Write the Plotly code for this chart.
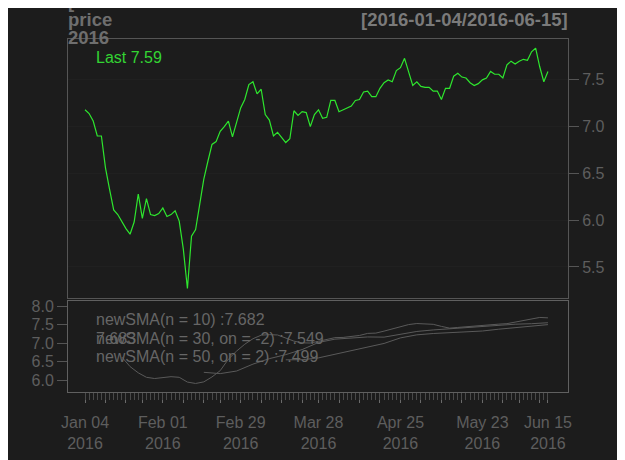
import pandas as pd
import plotly.graph_objects as go

# ---------------- data ----------------
holidays = ["2016-01-18", "2016-02-15", "2016-03-25", "2016-05-30"]
dates = [d.strftime("%Y-%m-%d") for d in pd.bdate_range("2016-01-04", "2016-06-15")
         if d.strftime("%Y-%m-%d") not in holidays]

price = [7.18, 7.14, 7.06, 6.90, 6.90, 6.56, 6.33, 6.11, 6.06, 5.98,
         5.91, 5.85, 5.98, 6.28, 6.02, 6.23, 6.06, 6.05, 6.07, 6.13,
         6.04, 6.06, 6.10, 5.99, 5.69, 5.27, 5.83, 5.90, 6.19, 6.44,
         6.63, 6.81, 6.84, 6.95, 7.00, 7.06, 6.89, 7.04, 7.20, 7.29,
         7.45, 7.48, 7.35, 7.40, 7.13, 7.07, 6.90, 6.94, 6.89, 6.83,
         6.87, 7.17, 7.12, 7.16, 7.15, 7.00, 7.13, 7.18, 7.09, 7.10,
         7.28, 7.28, 7.16, 7.18, 7.20, 7.22, 7.28, 7.29, 7.37, 7.38,
         7.32, 7.32, 7.41, 7.47, 7.50, 7.48, 7.60, 7.63, 7.73, 7.57,
         7.44, 7.48, 7.43, 7.42, 7.42, 7.38, 7.38, 7.29, 7.41, 7.41,
         7.54, 7.57, 7.53, 7.52, 7.47, 7.44, 7.46, 7.50, 7.52, 7.59,
         7.56, 7.56, 7.52, 7.66, 7.70, 7.67, 7.70, 7.72, 7.71, 7.80,
         7.84, 7.64, 7.48, 7.59]

# SMA lines of the lower panel, read at every 2nd / 4th session
sma10_dates = dates[9::2]
sma10 = [6.622, 6.366, 6.196, 6.075, 6.042, 6.058, 6.092, 6.075, 5.946, 5.908,
         5.951, 6.085, 6.255, 6.565, 6.785, 6.971, 7.120, 7.216, 7.230, 7.221,
         7.144, 7.055, 7.008, 7.003, 7.050, 7.097, 7.149, 7.155, 7.182, 7.208,
         7.264, 7.272, 7.326, 7.382, 7.448, 7.503, 7.531, 7.528, 7.510, 7.454,
         7.406, 7.425, 7.445, 7.456, 7.485, 7.514, 7.515, 7.528, 7.574, 7.620,
         7.660, 7.696, 7.685]
sma30_dates = dates[29::4]
sma30 = [6.210, 6.175, 6.245, 6.432, 6.580, 6.689, 6.826, 7.019, 7.108, 7.138,
         7.168, 7.163, 7.235, 7.317, 7.358, 7.391, 7.433, 7.462, 7.490, 7.513,
         7.527, 7.553]
sma50_dates = dates[49::4]
sma50 = [6.549, 6.550, 6.601, 6.700, 6.785, 6.885, 6.992, 7.142, 7.225, 7.261,
         7.283, 7.292, 7.329, 7.378, 7.421, 7.469, 7.502]

label_dates = ["2016-01-04", "2016-02-01", "2016-02-29", "2016-03-28",
               "2016-04-25", "2016-05-23", "2016-06-15"]
label_text = ["Jan 04<br>2016", "Feb 01<br>2016", "Feb 29<br>2016", "Mar 28<br>2016",
              "Apr 25<br>2016", "May 23<br>2016", "Jun 15<br>2016"]

main_ticks = [5.5, 6.0, 6.5, 7.0, 7.5]
sub_ticks = [6.0, 6.5, 7.0, 7.5, 8.0]

legend_lines = ["newSMA(n = 10) :7.682",
                "newSMA(n = 30, on = -2) :7.549",
                "newSMA(n = 50, on = 2) :7.499"]
title_lines = ["[", "price", "2016"]
range_text = "[2016-01-04/2016-06-15]"
last_text = "Last 7.59"

# weekly ticks: first session of each week plus last session
dts = pd.to_datetime(dates)
week_ticks = [dates[0]]
for i in range(1, len(dates)):
    if dts[i].weekday() < dts[i - 1].weekday():
        week_ticks.append(dates[i])
if dates[-1] not in week_ticks:
    week_ticks.append(dates[-1])
week_text = [label_text[label_dates.index(d)] if d in label_dates else "" for d in week_ticks]

# ---------------- style ----------------
BG = "#1c1c1c"
FRAME = "#555555"
TXT = "#5e5e5e"
FONT = "Liberation Sans, Arial, sans-serif"
GREEN = "#2ee62e"
SMA_COL = "#5a5a5a"
XR = [-4.15, 117.9]

fig = go.Figure()
fig.add_trace(go.Scatter(x=dates, y=price, mode="lines",
                         line=dict(color=GREEN, width=1.2),
                         xaxis="x", yaxis="y", showlegend=False))
for xs, ys in [(sma10_dates, sma10), (sma30_dates, sma30), (sma50_dates, sma50)]:
    fig.add_trace(go.Scatter(x=xs, y=ys, mode="lines",
                             line=dict(color=SMA_COL, width=1),
                             xaxis="x2", yaxis="y2", showlegend=False))
# invisible trace to register categories on the minor-tick axis
fig.add_trace(go.Scatter(x=dates, y=price, mode="lines", opacity=0,
                         line=dict(width=0), hoverinfo="skip",
                         xaxis="x3", yaxis="y2", showlegend=False))

cat = dict(type="category", categoryorder="array", categoryarray=dates, range=XR,
           automargin=False)

fig.update_layout(
    width=625, height=460,
    margin=dict(l=60, r=65, t=31, b=76),
    paper_bgcolor=BG, plot_bgcolor=BG,
    font=dict(family=FONT, color=TXT, size=16),
    xaxis=dict(domain=[0, 1], anchor="y", **cat,
               showticklabels=False, ticks="", showgrid=False, zeroline=False,
               showline=True, mirror=True, linecolor=FRAME, linewidth=1),
    yaxis=dict(domain=[0.266, 1], anchor="x", side="right", range=[5.167, 7.937],
               automargin=False,
               tickvals=main_ticks, ticktext=[f"{v:.1f}" for v in main_ticks],
               ticks="outside", ticklen=10, tickcolor=FRAME,
               tickfont=dict(size=16, color=TXT),
               showgrid=True, gridcolor="#202020", zeroline=False,
               showline=True, mirror=True, linecolor=FRAME, linewidth=1),
    xaxis2=dict(domain=[0, 1], anchor="y2", **cat,
                tickvals=week_ticks, ticktext=week_text,
                ticks="outside", ticklen=10, tickcolor="#6a6a6a", tickangle=0,
                tickfont=dict(size=16, color=TXT), ticklabelstandoff=6,
                showgrid=False, zeroline=False,
                showline=True, mirror=True, linecolor="#606060", linewidth=1),
    xaxis3=dict(overlaying="x2", anchor="y2", side="bottom", **cat,
                tickvals=dates, showticklabels=False,
                ticks="outside", ticklen=7, tickcolor="#4a4a4a",
                showgrid=False, zeroline=False, showline=False),
    yaxis2=dict(domain=[0, 0.259], anchor="x2", side="left", range=[5.677, 8.153],
                automargin=False,
                tickvals=sub_ticks, ticktext=[f"{v:.1f}" for v in sub_ticks],
                ticks="outside", ticklen=10, tickcolor=FRAME,
                tickfont=dict(size=16, color=TXT),
                showgrid=False, zeroline=False,
                showline=True, mirror=True, linecolor="#606060", linewidth=1),
)

ann = []
for txt, yc in zip(title_lines, [1.105, 1.054, 1.003]):
    ann.append(dict(text=f"<b>{txt}</b>", x=0, y=yc, xref="paper", yref="paper",
                    xanchor="left", yanchor="middle", showarrow=False, xshift=-2,
                    font=dict(size=18.5, color="#6e6e6e", family=FONT)))
ann.append(dict(text=f"<b>{range_text}</b>", x=1, y=1.054, xref="paper", yref="paper",
                xanchor="right", yanchor="middle", showarrow=False, xshift=2,
                font=dict(size=18.5, color="#7a7a7a", family=FONT)))
ann.append(dict(text=last_text, x=0.056, y=0.949, xref="paper", yref="paper",
                xanchor="left", yanchor="middle", showarrow=False, xshift=-2,
                font=dict(size=16, color="#33d433", family=FONT)))
for txt, yc in zip(legend_lines, [0.2048, 0.151, 0.101]):
    ann.append(dict(text=txt, x=0.056, y=yc, xref="paper", yref="paper",
                    xanchor="left", yanchor="middle", showarrow=False, xshift=-2,
                    font=dict(size=16, color="#666666", family=FONT)))
ann.append(dict(text="7.683", x=0.056, y=0.151, xref="paper", yref="paper",
                xanchor="left", yanchor="middle", showarrow=False, xshift=-2,
                font=dict(size=16, color="#666666", family=FONT)))
fig.update_layout(annotations=ann)

fig.write_html("out.html")
